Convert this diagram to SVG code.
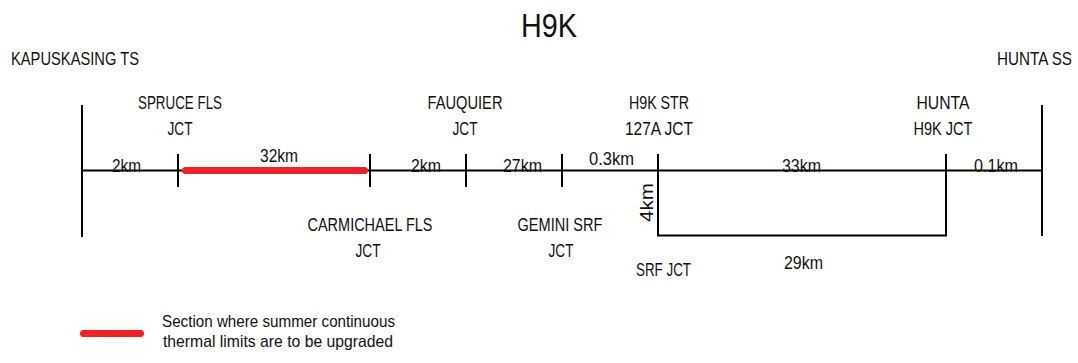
<svg xmlns="http://www.w3.org/2000/svg" width="1078" height="363" viewBox="0 0 1078 363">
<style>
text{font-family:"Liberation Sans Narrow","Liberation Sans",Arial,sans-serif;fill:#111;font-size:19px;text-anchor:middle}
.km{font-size:18px}
.leg{font-size:17px;text-anchor:start}
.title{font-size:34px;font-family:"Liberation Sans",Arial,sans-serif}
.ln{stroke:#000;stroke-width:2;fill:none}
.red{stroke:#ED2227;stroke-width:7;stroke-linecap:round;fill:none}
</style>
<rect width="1078" height="363" fill="#fff"/>
<text class="title" x="549" y="37" textLength="56" lengthAdjust="spacingAndGlyphs">H9K</text>
<g id="kapuskasing-ts">
<line class="ln" x1="82" y1="105" x2="82" y2="237"/>
<text x="75" y="65" textLength="128" lengthAdjust="spacingAndGlyphs">KAPUSKASING TS</text>
</g>
<g id="hunta-ss">
<line class="ln" x1="1042" y1="105" x2="1042" y2="236"/>
<text x="1034.5" y="65" textLength="75" lengthAdjust="spacingAndGlyphs">HUNTA SS</text>
</g>
<g id="spruce-fls-jct">
<line class="ln" x1="178" y1="154" x2="178" y2="187"/>
<text x="180" y="109" textLength="84" lengthAdjust="spacingAndGlyphs">SPRUCE FLS</text>
<text x="180" y="135" textLength="25" lengthAdjust="spacingAndGlyphs">JCT</text>
</g>
<g id="carmichael-fls-jct">
<line class="ln" x1="370" y1="154" x2="370" y2="187"/>
<text x="370" y="231" textLength="125" lengthAdjust="spacingAndGlyphs">CARMICHAEL FLS</text>
<text x="368" y="257" textLength="25" lengthAdjust="spacingAndGlyphs">JCT</text>
</g>
<g id="fauquier-jct">
<line class="ln" x1="466" y1="154" x2="466" y2="187"/>
<text x="465" y="109" textLength="75" lengthAdjust="spacingAndGlyphs">FAUQUIER</text>
<text x="465" y="135" textLength="25" lengthAdjust="spacingAndGlyphs">JCT</text>
</g>
<g id="gemini-srf-jct">
<line class="ln" x1="562" y1="154" x2="562" y2="187"/>
<text x="560" y="231" textLength="85" lengthAdjust="spacingAndGlyphs">GEMINI SRF</text>
<text x="561" y="257" textLength="25" lengthAdjust="spacingAndGlyphs">JCT</text>
</g>
<g id="h9k-str-127a-jct">
<line class="ln" x1="658" y1="154" x2="658" y2="171"/>
<text x="659" y="109" textLength="60" lengthAdjust="spacingAndGlyphs">H9K STR</text>
<text x="659" y="135" textLength="68" lengthAdjust="spacingAndGlyphs">127A JCT</text>
</g>
<g id="srf-jct">
<text x="663.5" y="276" textLength="55" lengthAdjust="spacingAndGlyphs">SRF JCT</text>
</g>
<g id="hunta-h9k-jct">
<line class="ln" x1="946" y1="154" x2="946" y2="171"/>
<text x="943" y="109" textLength="53" lengthAdjust="spacingAndGlyphs">HUNTA</text>
<text x="943" y="135" textLength="59" lengthAdjust="spacingAndGlyphs">H9K JCT</text>
</g>
<g id="connectors">
<line class="ln" x1="82" y1="170.5" x2="1042" y2="170.5"/>
<line class="red" x1="185.5" y1="170.5" x2="364.5" y2="170.5"/>
<polyline class="ln" points="658,170.5 658,235.5 946,235.5 946,170.5"/>
<text class="km" x="126.5" y="172" textLength="29" lengthAdjust="spacingAndGlyphs">2km</text>
<text class="km" x="279" y="162" textLength="38" lengthAdjust="spacingAndGlyphs">32km</text>
<text class="km" x="426" y="172" textLength="30" lengthAdjust="spacingAndGlyphs">2km</text>
<text class="km" x="522.5" y="172" textLength="39" lengthAdjust="spacingAndGlyphs">27km</text>
<text class="km" x="611.5" y="165" textLength="45" lengthAdjust="spacingAndGlyphs">0.3km</text>
<text class="km" x="801.5" y="172" textLength="39" lengthAdjust="spacingAndGlyphs">33km</text>
<text class="km" x="996" y="172" textLength="44" lengthAdjust="spacingAndGlyphs">0.1km</text>
<text class="km" x="803.5" y="269" textLength="39" lengthAdjust="spacingAndGlyphs">29km</text>
<text class="km" transform="translate(652.5,202.5) rotate(-90)" x="0" y="0" textLength="39" lengthAdjust="spacingAndGlyphs">4km</text>
</g>
<g id="legend">
<line class="red" x1="83.5" y1="333.5" x2="140.5" y2="333.5"/>
<text class="leg" x="162" y="327" textLength="233" lengthAdjust="spacingAndGlyphs">Section where summer continuous</text>
<text class="leg" x="163" y="347" textLength="230" lengthAdjust="spacingAndGlyphs">thermal limits are to be upgraded</text>
</g>
</svg>
